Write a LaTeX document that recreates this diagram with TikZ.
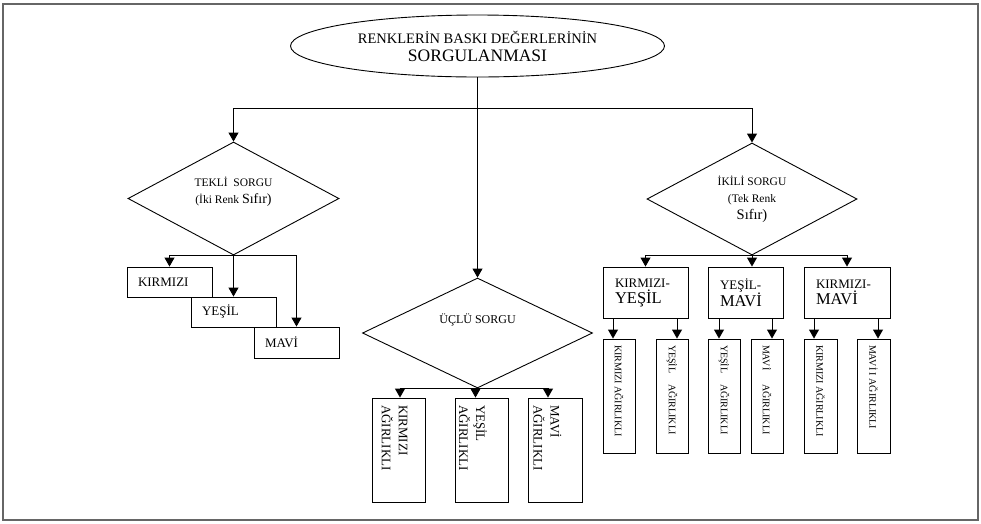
\documentclass[tikz,border=0pt]{standalone}
\usepackage{fontspec}
\setmainfont{Liberation Serif}
\usetikzlibrary{arrows.meta,shapes.geometric,positioning,calc}
\newcommand{\fsz}[2]{\fontsize{#1}{#2}\selectfont}

\begin{document}
\begin{tikzpicture}[
    x=1pt, y=-1pt,
    >={Triangle[width=10pt,length=9pt]},
    line width=0.9pt,
    arr/.style={->},
    frame/.style={draw=black!60, line width=1.5pt},
    oval/.style={
        ellipse,
        draw,
        align=center,
        inner sep=0pt,
        minimum width=374pt,
        minimum height=62pt,
        font=\fsz{14.5}{18}
    },
    query/.style={
        diamond,
        draw,
        aspect=2,
        align=center,
        inner sep=0pt,
        font=\fsz{11.5}{17}
    },
    lbox/.style={
        draw,
        align=left,
        text width=63pt,
        inner xsep=11pt,
        inner ysep=0pt,
        minimum height=30pt,
        font=\fsz{13}{15}
    },
    rbox/.style={
        draw,
        align=left,
        inner xsep=12pt,
        inner ysep=0pt,
        minimum height=51pt,
        font=\fsz{13}{16}
    },
    tallbox/.style={draw, inner sep=0pt, minimum width=53pt, minimum height=104pt},
    subbox/.style={draw, inner sep=0pt, minimum width=32pt, minimum height=114pt},
    vtext/.style={rotate=-90, anchor=west, align=left, inner sep=0pt, font=\fsz{13}{17}},
    stext/.style={rotate=-90, anchor=west, inner sep=0pt, font=\fsz{10}{12}}
]

% Stable crop.
\path[use as bounding box] (0,0) rectangle (981,523);
\draw[frame] (3,4) rectangle (978,520);

% --------------------------------------------------
% Root and the three queries
% --------------------------------------------------
\node[oval] (root) at (477.5,46) {RENKLERİN BASKI DEĞERLERİNİN\\{\fsz{17.5}{18}SORGULANMASI}};

\node[query, minimum width=211pt, minimum height=113pt, text depth=17pt] (tekli) at (233.5,198.5)
    {TEKLİ~~SORGU\\(İki Renk {\fsz{14}{16}Sıfır)}};
\node[query, minimum width=230pt, minimum height=110pt, text depth=28pt, font=\fsz{12}{14}] (uclu) at (477.5,333)
    {ÜÇLÜ SORGU};
\node[query, minimum width=210pt, minimum height=112pt] (ikili) at (752,199)
    {İKİLİ SORGU\\(Tek Renk\\{\fsz{14.5}{17}Sıfır)}};

\coordinate (split) at (477.5,108);

% --------------------------------------------------
% Single query: staircase of colours
% --------------------------------------------------
\node[lbox] (kirmizi) at (169.5,282) {KIRMIZI};
\node[lbox] (yesil) at (233.5,312) {YEŞİL};
\node[lbox, minimum height=31pt] (mavi) at (296.5,342.5) {MAVİ};

% --------------------------------------------------
% Triple query: weighted boxes
% --------------------------------------------------
\node[tallbox] (agkir) at (398.5,450) {};
\node[tallbox] (agyes) at (481.5,450) {};
\node[tallbox, minimum width=54pt] (agmav) at (555,450) {};

\node[vtext] (agkirt) at ([xshift=-4pt,yshift=-7pt]agkir.north) {KIRMIZI\\AĞIRLIKLI};
\node[vtext] (agyest) at ([xshift=-8.5pt,yshift=-7pt]agyes.north) {YEŞİL\\AĞIRLIKLI};
\node[vtext] (agmavt) at ([xshift=-7.5pt,yshift=-7pt]agmav.north) {MAVİ\\AĞIRLIKLI};

% --------------------------------------------------
% Double query: colour pairs and their weights
% --------------------------------------------------
\node[rbox, text width=61pt] (kirye) at (645.5,292.5) {KIRMIZI-\\{\fsz{16.5}{16}YEŞİL}};
\node[rbox, text width=51pt] (yesma) at (745.5,292.5) {YEŞİL-\\{\fsz{16.5}{16}MAVİ}};
\node[rbox, text width=62pt] (kirma) at (847,292.5) {KIRMIZI-\\{\fsz{16.5}{16}MAVİ}};

\node[subbox] (s1) at (619,396) {};
\node[subbox] (s2) at (672,396) {};
\node[subbox] (s3) at (724,396) {};
\node[subbox] (s4) at (767,396) {};
\node[subbox, minimum width=33pt] (s5) at (820.5,396) {};
\node[subbox, minimum width=33pt] (s6) at (873.5,396) {};

\node[stext] (s1t) at ([yshift=-6pt]s1.north) {KIRMIZI AĞIRLIKLI};
\node[stext] (s2t) at ([yshift=-6pt]s2.north) {\makebox[39pt][l]{YEŞİL}AĞIRLIKLI};
\node[stext] (s3t) at ([yshift=-6pt]s3.north) {\makebox[39pt][l]{YEŞİL}AĞIRLIKLI};
\node[stext] (s4t) at ([yshift=-6pt]s4.north) {\makebox[39pt][l]{MAVİ}AĞIRLIKLI};
\node[stext] (s5t) at ([yshift=-6pt]s5.north) {KIRMIZI AĞIRLIKLI};
\node[stext] (s6t) at ([yshift=-6pt]s6.north) {MAVİ I AĞIRLIKLI};

% --------------------------------------------------
% Connectors
% --------------------------------------------------
\draw[arr] (root.south) -- (uclu.north);
\draw[arr] (split) -| (tekli.north);
\draw[arr] (split) -| (ikili.north);

\draw[arr] (tekli.south) -| (kirmizi.north);
\draw[arr] (tekli.south) -- (yesil.north);
\draw[arr] (tekli.south) -| (mavi.north);

\draw[arr] (uclu.south) -| ([xshift=1.5pt]agkir.north);
\draw[arr] (uclu.south) -| ([xshift=-6pt]agyes.north);
\draw[arr] (uclu.south) -| ([xshift=-7pt]agmav.north);

\draw[arr] (ikili.south) -| (kirye.north);
\draw[arr] (ikili.south) -- (ikili.south |- yesma.north);
\draw[arr] (ikili.south) -| (kirma.north);

\draw[arr] ([xshift=-6pt]s1.north |- kirye.south) -- ([xshift=-6pt]s1.north);
\draw[arr] ([xshift=5pt]s2.north |- kirye.south) -- ([xshift=5pt]s2.north);
\draw[arr] ([xshift=-5pt]s3.north |- yesma.south) -- ([xshift=-5pt]s3.north);
\draw[arr] ([xshift=5pt]s4.north |- yesma.south) -- ([xshift=5pt]s4.north);
\draw[arr] ([xshift=-6.5pt]s5.north |- kirma.south) -- ([xshift=-6.5pt]s5.north);
\draw[arr] ([xshift=4.5pt]s6.north |- kirma.south) -- ([xshift=4.5pt]s6.north);

\end{tikzpicture}
\end{document}
